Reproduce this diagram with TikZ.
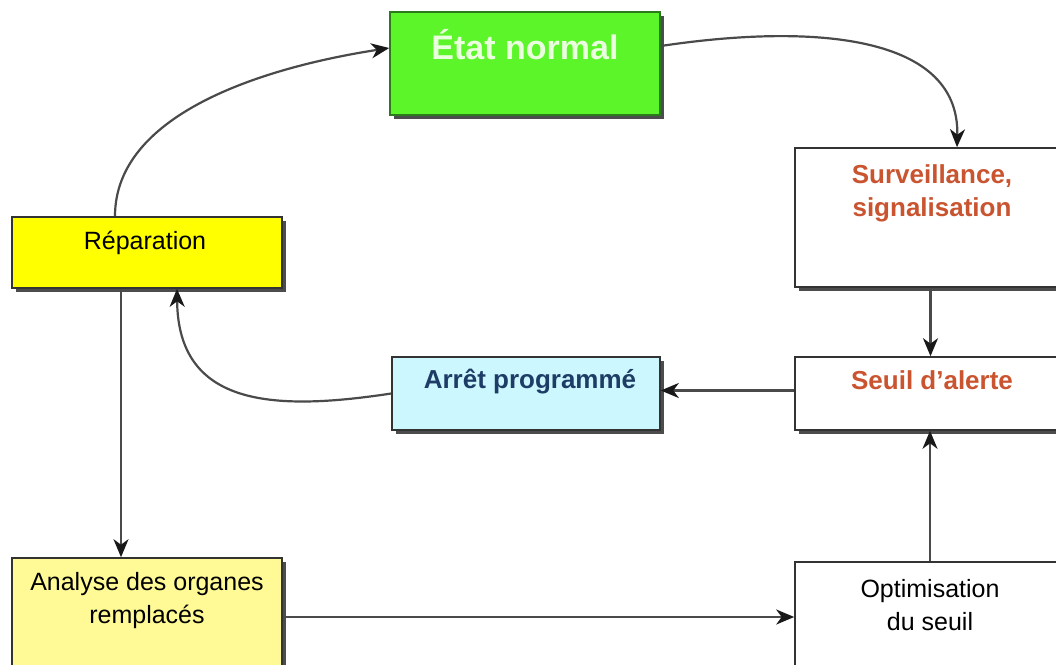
\documentclass[tikz,border=0pt]{standalone}
\usepackage{fontspec}
\setmainfont{Liberation Sans}
\usetikzlibrary{shadows,arrows.meta,calc}

\definecolor{okgreen}{HTML}{5CF52A}
\definecolor{okgreenline}{HTML}{2B7A1B}
\definecolor{oktext}{HTML}{E9FFDD}
\definecolor{repyellow}{HTML}{FFFF00}
\definecolor{anayellow}{HTML}{FFFA96}
\definecolor{stopcyan}{HTML}{CCF7FF}
\definecolor{alertred}{HTML}{C9542F}
\definecolor{stopblue}{HTML}{1E3D66}
\definecolor{wire}{HTML}{4A4A4A}

\tikzset{
  box/.style={rectangle, draw=black!80, line width=1.6pt, inner sep=0pt,
    drop shadow={shadow xshift=3.5pt, shadow yshift=-3.5pt, fill=black!70, opacity=1}},
  txt/.style={align=center, inner sep=0pt, font=\fontsize{25}{33}\selectfont},
  boldtxt/.style={txt, font=\fontsize{26}{33}\selectfont\bfseries},
  arr/.style={draw=wire, line width=2.2pt,
    -{Stealth[length=18pt, width=15pt, inset=5.5pt, color=black!90]}},
}

\begin{document}
\begin{tikzpicture}[x=1pt, y=-1pt]
  \clip (0,0) rectangle (1056,664);
  \fill[white] (0,0) rectangle (1056,664);

  % boxes
  \node[box, fill=okgreen, draw=okgreenline, minimum width=270pt, minimum height=103pt] (etat) at (525,63.5) {};
  \node[box, fill=repyellow, minimum width=270pt, minimum height=71pt] (rep) at (147,252.5) {};
  \node[box, fill=white, minimum width=275pt, minimum height=139pt] (surv) at (932.5,217.5) {};
  \node[box, fill=white, minimum width=275pt, minimum height=73pt] (seuil) at (932.5,393.5) {};
  \node[box, fill=stopcyan, minimum width=268pt, minimum height=73pt] (arret) at (526,393.5) {};
  \node[box, fill=anayellow, minimum width=270pt, minimum height=122pt] (ana) at (147,619) {};
  \node[box, fill=white, minimum width=275pt, minimum height=118pt] (opt) at (932.5,621) {};

  % texts
  \node[inner sep=0pt, text=oktext, font=\fontsize{34}{36}\selectfont\bfseries] (etat-t) at (525,45) {État normal};
  \node[txt] (rep-t) at (145,243) {Réparation};
  \node[boldtxt, text=alertred] (surv-t) at (932,193.5) {Surveillance,\\signalisation};
  \node[boldtxt, text=alertred] (seuil-t) at (932,380) {Seuil d’alerte};
  \node[boldtxt, text=stopblue] (arret-t) at (530,382) {Arrêt programmé};
  \node[txt] (ana-t) at (147,601) {Analyse des organes\\remplacés};
  \node[txt] (opt-t) at (930,605) {Optimisation\\du seuil};

  % connectors
  \draw[arr] ([xshift=-32pt]rep.north) .. controls (115,115) and (260,68) .. ([yshift=15.5pt]etat.west);
  \draw[arr] ([yshift=17.5pt]etat.east) .. controls (800,25) and (960,30) .. ([xshift=24.5pt]surv.north);
  \draw[arr] ([xshift=-2pt]surv.south) -- ([xshift=-2pt]seuil.north);
  \draw[arr] ([yshift=3pt]seuil.west) -- ([yshift=3pt]arret.east);
  \draw[arr] (arret.west) .. controls (270,412) and (178,405) .. ([xshift=30pt]rep.south);
  \draw[arr] ([xshift=-26pt]rep.south) -- ([xshift=-26pt]rep.south |- ana.north);
  \draw[arr] (ana.east |- 0,617) -- (opt.west |- 0,617);
  \draw[arr] ([xshift=-2.5pt]opt.north) -- ([xshift=-2.5pt]seuil.south);
\end{tikzpicture}
\end{document}
